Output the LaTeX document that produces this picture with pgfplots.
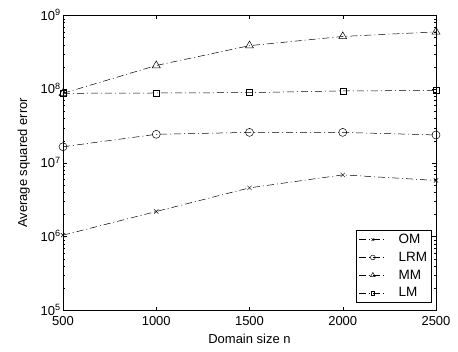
\documentclass[border=0pt]{standalone}
\usepackage{pgfplots}
\pgfplotsset{compat=1.18}
\usepackage{fontspec}
\setmainfont{Liberation Sans}
\begin{document}
\begin{tikzpicture}
\begin{axis}[
  scale only axis,
  width=373pt, height=295pt,
  ymode=log, log basis y=10,
  xmin=500, xmax=2500, ymin=1e5, ymax=1e9,
  xtick={500,1000,1500,2000,2500},
  ytick={1e5,1e6,1e7,1e8,1e9},
  minor ytick={2e5,3e5,4e5,5e5,6e5,7e5,8e5,9e5,2e6,3e6,4e6,5e6,6e6,7e6,8e6,9e6,2e7,3e7,4e7,5e7,6e7,7e7,8e7,9e7,2e8,3e8,4e8,5e8,6e8,7e8,8e8,9e8},
  yticklabel={10\textsuperscript{\pgfmathparse{int(round(\tick))}\pgfmathresult}},
  /pgf/number format/assume math mode=true,
  /pgf/number format/1000 sep={},
  tick align=inside,
  tick style={black, line width=0.5pt},
  major tick length=4pt, minor tick length=2.2pt,
  axis line style={line width=0.9pt},
  tick label style={font=\fontsize{13}{15}\selectfont},
  xticklabel style={yshift=-2.3pt},
  yticklabel style={anchor=base east, xshift=1.3pt, yshift=-4.6pt},
  label style={font=\fontsize{13}{15}\selectfont},
  xlabel={Domain size n},
  ylabel={Average squared error},
  every axis x label/.style={at={(axis description cs:0.5,-0.112)}, anchor=base, font=\fontsize{13}{15}\selectfont},
  every axis y label/.style={at={(axis description cs:-0.105,0.5)}, rotate=90, anchor=center, font=\fontsize{13}{15}\selectfont},
  legend cell align=left,
  legend style={font=\fontsize{13.5}{15}\selectfont, draw=black, line width=0.8pt, inner sep=3pt, row sep=5pt,
    nodes={inner sep=1pt},
    at={(rel axis cs:0.988,0.026)}, anchor=south east,
    /tikz/every odd column/.append style={column sep=11pt}},
  legend image code/.code={\draw[mark repeat=2,mark phase=2, every mark/.append style={scale=0.6}] plot coordinates {(0pt,0pt) (13.5pt,0pt) (27pt,0pt)};},
]
\tikzset{dd/.style={black, line width=0.5pt, dash pattern=on 7pt off 3pt on 1pt off 3pt, mark options={solid, fill=none, line width=0.5pt}}}
\addplot[dd, mark=x, mark size=3pt] coordinates {(500,1.05e6) (1000,2.2e6) (1500,4.6e6) (2000,6.9e6) (2500,5.8e6)};
\addlegendentry{OM}
\addplot[dd, mark=o, mark size=4pt] coordinates {(500,1.66e7) (1000,2.45e7) (1500,2.6e7) (2000,2.6e7) (2500,2.4e7)};
\addlegendentry{LRM}
\addplot[dd, mark=triangle, mark size=4.6pt] coordinates {(500,8.8e7) (1000,2.1e8) (1500,3.9e8) (2000,5.2e8) (2500,6.0e8)};
\addlegendentry{MM}
\addplot[dd, mark=square, mark size=3pt] coordinates {(500,8.8e7) (1000,8.9e7) (1500,9.0e7) (2000,9.5e7) (2500,9.6e7)};
\addlegendentry{LM}
\end{axis}
\path (-63pt,-41pt) rectangle (395pt,310.5pt);
\end{tikzpicture}
\end{document}
